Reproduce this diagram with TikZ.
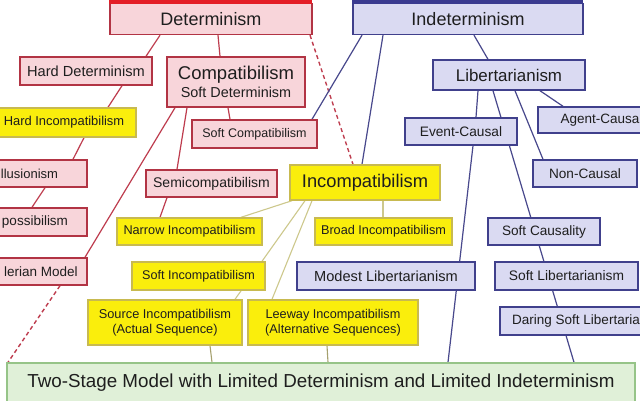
\documentclass[tikz,border=0pt]{standalone}
\usepackage{fontspec}
\setmainfont{Liberation Sans}
\pgfdeclarelayer{background}
\pgfdeclarelayer{paper}
\pgfsetlayers{paper,background,main}
\definecolor{pinkfill}{RGB}{248,213,218}
\definecolor{pinkline}{RGB}{178,52,68}
\definecolor{redband}{RGB}{228,30,38}
\definecolor{yelfill}{RGB}{250,238,12}
\definecolor{yelline}{RGB}{200,186,80}
\definecolor{bluefill}{RGB}{218,218,242}
\definecolor{blueline}{RGB}{64,64,140}
\definecolor{blueband}{RGB}{58,58,144}
\definecolor{greenfill}{RGB}{224,240,216}
\definecolor{greenline}{RGB}{150,196,136}
\definecolor{redconn}{RGB}{190,60,78}
\definecolor{blueconn}{RGB}{72,72,140}
\definecolor{yelconn}{RGB}{205,200,140}
\definecolor{oliveconn}{RGB}{165,160,110}
\definecolor{txt}{RGB}{30,30,30}
\tikzset{
  bx/.style={draw, line width=1.4pt, inner sep=0pt, align=center, text=txt},
  pinkbox/.style={bx, fill=pinkfill, draw=pinkline},
  yelbox/.style={bx, fill=yelfill, draw=yelline},
  bluebox/.style={bx, fill=bluefill, draw=blueline},
  greenbox/.style={bx, fill=greenfill, draw=greenline},
  rc/.style={draw=redconn, line width=1.2pt},
  rcd/.style={draw=redconn, line width=1.4pt, dash pattern=on 4pt off 3pt},
  bc/.style={draw=blueconn, line width=1.2pt},
  yc/.style={draw=yelconn, line width=1.1pt},
  oc/.style={draw=oliveconn, line width=1.1pt},
}
\newcommand{\fs}[1]{\fontsize{#1}{#1}\selectfont}
\begin{document}
\begin{tikzpicture}[x=1pt,y=-1pt]
\useasboundingbox (0,0) rectangle (640,400);
\clip (0,0) rectangle (640,400);
\begin{pgfonlayer}{paper}
\fill[white] (0,0) rectangle (640,400);
\end{pgfonlayer}
% top nodes
\node[pinkbox, minimum width=202pt, minimum height=31pt, font=\fs{18}] (det) at (211,19) {Determinism};
\node[bluebox, minimum width=230pt, minimum height=31pt, font=\fs{18}] (ind) at (468,19) {Indeterminism};
\fill[redband] (det.north west) ++(-0.7,1.2) rectangle ++(203.4,-14);
\fill[blueband] (ind.north west) ++(-0.7,1.2) rectangle ++(231.4,-14);
% determinism side
\node[pinkbox, minimum width=132pt, minimum height=28pt, font=\fs{14.6}] (harddet) at (86,71) {Hard Determinism};
\node[pinkbox, minimum width=138pt, minimum height=50pt] (compat) at (236,82) {{\fs{18.5}Compatibilism}\\[3pt]{\fs{14.4}Soft Determinism}};
\node[yelbox, minimum width=144pt, minimum height=29pt, font=\fs{12.9}] (hardinc) at (64,122.5) {Hard Incompatibilism};
\node[pinkbox, minimum width=125pt, minimum height=28pt, font=\fs{12.5}] (softcompat) at (254.5,134) {Soft Compatibilism};
\node[pinkbox, minimum width=115pt, minimum height=27pt, font=\fs{13}] (illus) at (29.5,173.5) {llusionism};
\node[pinkbox, minimum width=104pt, minimum height=28pt, font=\fs{13.5}] (imposs) at (35,222) {possibilism};
\node[pinkbox, minimum width=92pt, minimum height=27pt, font=\fs{13.5}] (valer) at (41,271.5) {lerian Model};
\node[pinkbox, minimum width=131pt, minimum height=27pt, font=\fs{14}] (semi) at (211.5,183.5) {Semicompatibilism};
% incompatibilism
\node[yelbox, minimum width=150pt, minimum height=35pt, font=\fs{18.3}] (incompat) at (365,182.5) {Incompatibilism};
\node[yelbox, minimum width=145pt, minimum height=27pt, font=\fs{12.7}] (narrow) at (189.5,231.5) {Narrow Incompatibilism};
\node[yelbox, minimum width=137pt, minimum height=27pt, font=\fs{12.7}] (broad) at (383.5,231.5) {Broad Incompatibilism};
\node[yelbox, minimum width=133pt, minimum height=28pt, font=\fs{12.6}] (softinc) at (198.5,276) {Soft Incompatibilism};
\node[yelbox, minimum width=154pt, minimum height=45pt, font=\fs{12.8}] (source) at (165,322.5) {Source Incompatibilism\\[2pt](Actual Sequence)};
\node[yelbox, minimum width=170pt, minimum height=45pt, font=\fs{12.7}] (leeway) at (333,322.5) {Leeway Incompatibilism\\[2pt](Alternative Sequences)};
% indeterminism side
\node[bluebox, minimum width=152pt, minimum height=30pt, font=\fs{16.9}] (lib) at (509,75) {Libertarianism};
\node[bluebox, minimum width=112pt, minimum height=27pt, font=\fs{13.7}] (event) at (461,131.5) {Event-Causal};
\node[bluebox, minimum width=124pt, minimum height=26pt, font=\fs{13.5}] (agent) at (600,120) {Agent-Causa};
\node[bluebox, minimum width=104pt, minimum height=27pt, font=\fs{13.6}] (noncausal) at (585,173.5) {Non-Causal};
\node[bluebox, minimum width=112pt, minimum height=27pt, font=\fs{13.6}] (softcaus) at (544,231.5) {Soft Causality};
\node[bluebox, minimum width=178pt, minimum height=28pt, font=\fs{14.6}] (modest) at (386,276) {Modest Libertarianism};
\node[bluebox, minimum width=143pt, minimum height=28pt, font=\fs{13.8}] (softlib) at (566.5,276) {Soft Libertarianism};
\node[bluebox, minimum width=152pt, minimum height=28pt, font=\fs{13.5}] (daring) at (576,321) {Daring Soft Libertaria};
% bottom
\node[greenbox, minimum width=628pt, minimum height=40pt, font=\fs{18.8}] (two) at (321,383) {Two-Stage Model with Limited Determinism and Limited Indeterminism};
% connectors
\begin{pgfonlayer}{background}
\draw[rc] ([xshift=-51pt]det.south) -- ([xshift=60pt]harddet.north);
\draw[rc] ([xshift=7pt]det.south) -- ([xshift=-16pt]compat.north);
\draw[rcd] ([xshift=99pt]det.south) -- ([xshift=-12pt]incompat.north);
\draw[rc] ([xshift=36pt]harddet.south) -- ([xshift=44pt]hardinc.north);
\draw[rc] ([xshift=20pt]hardinc.south) -- ([xshift=43.5pt]illus.north);
\draw[rc] ([xshift=15.5pt]illus.south) -- ([xshift=-3pt]imposs.north);
\draw[rc] ([xshift=-61pt]compat.south) -- ([xshift=44pt]valer.north);
\draw[rcd] ([xshift=19pt]valer.south) -- ([xshift=-313pt]two.north);
\draw[rc] ([xshift=-49pt]compat.south) -- ([xshift=-34.5pt]semi.north);
\draw[rc] ([xshift=-44.5pt]semi.south) -- ([xshift=-29.5pt]narrow.north);
\draw[rc] ([xshift=-8pt]compat.south) -- ([xshift=-24.5pt]softcompat.north);
\draw[bc] ([xshift=-106pt]ind.south) -- ([xshift=57.5pt]softcompat.north);
\draw[bc] ([xshift=-85pt]ind.south) -- ([xshift=-3pt]incompat.north);
\draw[bc] ([xshift=6pt]ind.south) -- ([xshift=-21pt]lib.north);
\draw[bc] ([xshift=-31pt]lib.south) -- ([xshift=15pt]event.north);
\draw[bc] ([xshift=-16pt]lib.south) -- ([xshift=253pt]two.north);
\draw[bc] ([xshift=6pt]lib.south) -- ([xshift=-42pt]noncausal.north);
\draw[bc] ([xshift=31pt]lib.south) -- ([xshift=-37pt]agent.north);
\draw[bc] ([xshift=12pt]event.south) -- ([xshift=127pt]two.north);
\draw[yc] ([xshift=-73pt]incompat.south) -- ([xshift=51.5pt]narrow.north);
\draw[yc] ([xshift=-60pt]incompat.south) -- ([xshift=70pt]source.north);
\draw[yc] ([xshift=-53pt]incompat.south) -- ([xshift=-61pt]leeway.north);
\draw[yc] ([xshift=18pt]incompat.south) -- ([xshift=-0.5pt]broad.north);
\draw[oc] ([xshift=45pt]source.south) -- ([xshift=-109pt]two.north);
\draw[oc] ([xshift=-6pt]leeway.south) -- ([xshift=7pt]two.north);
\end{pgfonlayer}
\end{tikzpicture}
\end{document}
